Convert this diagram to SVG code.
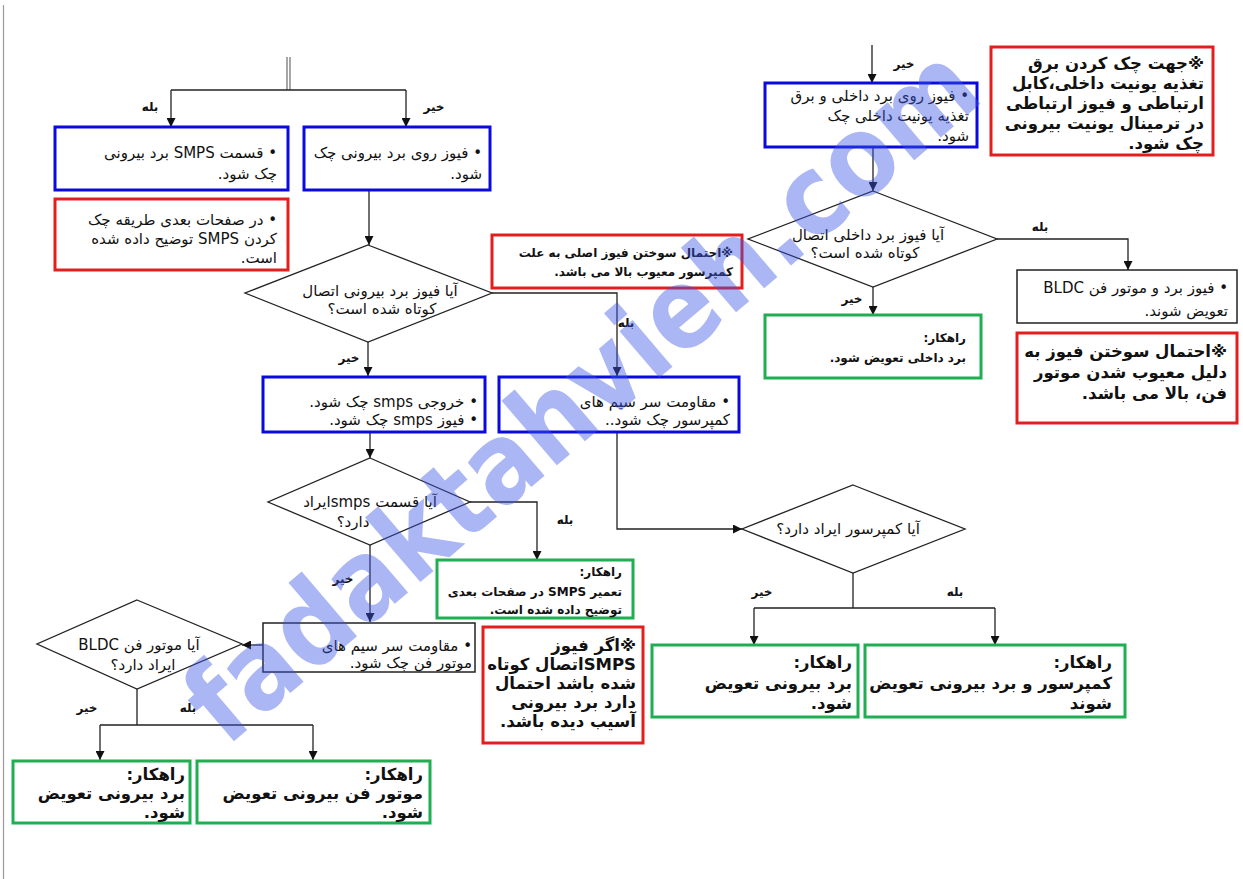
<svg xmlns="http://www.w3.org/2000/svg" width="1243" height="879" viewBox="0 0 1243 879">
<defs>
<style>
.bx{fill:#fff;stroke-width:3}
.blue{stroke:#0a0ae0}
.red{stroke:#e41e1e}
.green{stroke:#1fae52}
.blk{stroke:#222;stroke-width:1.5;fill:#fff}
.dia{fill:#fff;stroke:#222;stroke-width:1.3}
.c{fill:none;stroke:#222;stroke-width:1.3}
text{font-family:"DejaVu Sans",sans-serif;fill:#111}
.r{direction:rtl;text-anchor:start;font-size:15px}
.m{direction:rtl;text-anchor:middle;font-size:15px}
.b{font-weight:bold}
.s{font-size:12px}
.L{font-size:16.5px}
.lb{font-size:12px;font-weight:bold;direction:rtl;text-anchor:middle}
</style>
<marker id="ar" viewBox="0 0 10 10" refX="10" refY="5" markerWidth="9" markerHeight="9" markerUnits="userSpaceOnUse" orient="auto"><path d="M0,0L10,5L0,10z" fill="#111"/></marker>
</defs>
<rect width="1243" height="879" fill="#fff"/>
<line x1="3.5" y1="5" x2="3.5" y2="879" stroke="#999" stroke-width="1.2"/>

<g id="connectors">
<line x1="287" y1="57" x2="287" y2="90" stroke="#777" stroke-width="1.3"/>
<line x1="290" y1="57" x2="290" y2="90" stroke="#777" stroke-width="1.3"/>
<path class="c" d="M171,90H406"/>
<path class="c" d="M171,90V127" marker-end="url(#ar)"/>
<path class="c" d="M406,90V127" marker-end="url(#ar)"/>
<path class="c" d="M369,190V245" marker-end="url(#ar)"/>
<path class="c" d="M492,293H617V376" marker-end="url(#ar)"/>
<path class="c" d="M368,342V376" marker-end="url(#ar)"/>
<path class="c" d="M370,432V458" marker-end="url(#ar)"/>
<path class="c" d="M617,432V529H742" marker-end="url(#ar)"/>
<path class="c" d="M470,502H537V560" marker-end="url(#ar)"/>
<path class="c" d="M370,545V622" marker-end="url(#ar)"/>
<path class="c" d="M263,645H242" marker-end="url(#ar)"/>
<path class="c" d="M137,689V725M100,725H313"/>
<path class="c" d="M100,725V760" marker-end="url(#ar)"/>
<path class="c" d="M313,725V760" marker-end="url(#ar)"/>
<path class="c" d="M853,573V608M754,608H995"/>
<path class="c" d="M754,608V645" marker-end="url(#ar)"/>
<path class="c" d="M995,608V645" marker-end="url(#ar)"/>
<path class="c" d="M872,45V83" marker-end="url(#ar)"/>
<path class="c" d="M873,147V191" marker-end="url(#ar)"/>
<path class="c" d="M997,239H1128V270" marker-end="url(#ar)"/>
<path class="c" d="M873,287V315" marker-end="url(#ar)"/>
<text class="lb" x="150" y="111">بله</text>
<text class="lb" x="434" y="111">خیر</text>
<text class="lb" x="349" y="362">خیر</text>
<text class="lb" x="626" y="327">بله</text>
<text class="lb" x="565" y="524">بله</text>
<text class="lb" x="343" y="583">خیر</text>
<text class="lb" x="87" y="712">خیر</text>
<text class="lb" x="188" y="712">بله</text>
<text class="lb" x="762" y="596">خیر</text>
<text class="lb" x="955" y="596">بله</text>
<text class="lb" x="904" y="68">خیر</text>
<text class="lb" x="1040" y="231">بله</text>
<text class="lb" x="852" y="303">خیر</text>
</g>

<g id="boxA"><rect class="bx blue" x="55" y="127" width="233" height="63"/>
<text class="r" x="277" y="158">• قسمت  SMPS برد بیرونی</text>
<text class="r" x="277" y="179">چک شود.</text></g>

<g id="boxB"><rect class="bx blue" x="304" y="127" width="186" height="63"/>
<text class="r" x="482" y="158">• فیوز روی برد بیرونی چک</text>
<text class="r" x="482" y="179">شود.</text></g>

<g id="boxC"><rect class="bx red" x="55" y="199" width="233" height="71"/>
<text class="r" x="277" y="225">• در صفحات بعدی طریقه چک</text>
<text class="r" x="277" y="244">کردن  SMPS توضیح داده شده</text>
<text class="r" x="277" y="263">است.</text></g>

<g id="dia1"><polygon class="dia" points="368,245 492,293 368,342 245,293"/>
<text class="m" x="380" y="296">آیا فیوز برد بیرونی اتصال</text>
<text class="m" x="382" y="314">کوتاه شده است؟</text></g>

<g id="boxF"><rect class="bx red" x="492" y="235" width="250" height="53"/>
<text class="r b s" x="733" y="257">※احتمال سوختن فیوز اصلی به علت</text>
<text class="r b s" x="733" y="276">کمپرسور معیوب بالا می باشد.</text></g>

<g id="boxD"><rect class="bx blue" x="263" y="377" width="222" height="55"/>
<text class="r" x="478" y="407">• خروجی smps چک شود.</text>
<text class="r" x="478" y="425">• فیوز smps چک شود.</text></g>

<g id="boxE"><rect class="bx blue" x="499" y="377" width="240" height="55"/>
<text class="r" x="730" y="407">• مقاومت سر سیم های</text>
<text class="r" x="730" y="425">کمپرسور چک شود..</text></g>

<g id="dia2"><polygon class="dia" points="370,458 470,502 370,545 268,502"/>
<text class="m" x="370" y="507">آیا قسمت smpsایراد</text>
<text class="m" x="353" y="527">دارد؟</text></g>

<g id="boxI"><rect class="bx green" x="437" y="560" width="196" height="58"/>
<text class="r b s" x="622" y="576">راهکار:</text>
<text class="r b s" x="622" y="596">تعمیر SMPS در صفحات بعدی</text>
<text class="r b s" x="622" y="614">توضیح داده شده است.</text></g>

<g id="boxJ"><rect class="blk" x="263" y="623" width="212" height="49"/>
<text class="r" x="472" y="651">• مقاومت سر سیم های</text>
<text class="r" x="472" y="668">موتور فن چک شود.</text></g>

<g id="dia4"><polygon class="dia" points="137,600 242,644 137,689 37,644"/>
<text class="m" x="139" y="650">آیا موتور فن BLDC</text>
<text class="m" x="143" y="670">ایراد دارد؟</text></g>

<g id="boxK"><rect class="bx green" x="13" y="761" width="177" height="62"/>
<text class="r b L" x="185" y="780">راهکار:</text>
<text class="r b L" x="185" y="799">برد بیرونی تعویض</text>
<text class="r b L" x="185" y="818">شود.</text></g>

<g id="boxL"><rect class="bx green" x="197" y="761" width="233" height="62"/>
<text class="r b L" x="423" y="780">راهکار:</text>
<text class="r b L" x="423" y="799">موتور فن بیرونی تعویض</text>
<text class="r b L" x="423" y="818">شود.</text></g>

<g id="boxM"><rect class="bx red" x="483" y="627" width="160" height="116"/>
<text class="r b L" x="636" y="651">※اگر فیوز</text>
<text class="r b L" x="636" y="670">SMPSاتصال کوتاه</text>
<text class="r b L" x="636" y="689">شده باشد احتمال</text>
<text class="r b L" x="636" y="708">دارد برد بیرونی</text>
<text class="r b L" x="636" y="727">آسیب دیده باشد.</text></g>

<g id="dia3"><polygon class="dia" points="853,485 965,529 853,573 742,529"/>
<text class="m" x="848" y="534">آیا کمپرسور ایراد دارد؟</text></g>

<g id="boxG"><rect class="bx green" x="652" y="645" width="206" height="72"/>
<text class="r b L" x="852" y="668">راهکار:</text>
<text class="r b L" x="852" y="689">برد بیرونی تعویض</text>
<text class="r b L" x="852" y="709">شود.</text></g>

<g id="boxH"><rect class="bx green" x="865" y="645" width="260" height="72"/>
<text class="r b L" x="1112" y="668">راهکار:</text>
<text class="r b L" x="1112" y="689">کمپرسور و برد بیرونی تعویض</text>
<text class="r b L" x="1112" y="709">شوند</text></g>

<g id="boxN"><rect class="bx blue" x="765" y="83" width="212" height="64"/>
<text class="r" x="969" y="101">• فیوز روی برد داخلی و برق</text>
<text class="r" x="969" y="121">تغذیه یونیت داخلی چک</text>
<text class="r" x="969" y="141">شود.</text></g>

<g id="boxR"><rect class="bx red" x="991" y="47" width="222" height="108"/>
<text class="r b L" x="1204" y="69">※جهت چک کردن برق</text>
<text class="r b L" x="1204" y="89">تغذیه یونیت داخلی،کابل</text>
<text class="r b L" x="1204" y="109">ارتباطی و فیوز ارتباطی</text>
<text class="r b L" x="1204" y="129">در ترمینال یونیت بیرونی</text>
<text class="r b L" x="1204" y="149">چک شود.</text></g>

<g id="dia5"><polygon class="dia" points="873,191 997,239 873,287 748,239"/>
<text class="m" x="868" y="240">آیا فیوز برد داخلی اتصال</text>
<text class="m" x="865" y="258">کوتاه شده است؟</text></g>

<g id="boxO"><rect class="bx green" x="765" y="315" width="216" height="63"/>
<text class="r b s" x="966" y="342">راهکار:</text>
<text class="r b s" x="966" y="362">برد داخلی تعویض شود.</text></g>

<g id="boxP"><rect class="blk" x="1017" y="270" width="220" height="53"/>
<text class="r" x="1228" y="293">• فیوز برد و موتور فن BLDC</text>
<text class="r" x="1228" y="316">تعویض شوند.</text></g>

<g id="boxQ"><rect class="bx red" x="1017" y="333" width="220" height="90"/>
<text class="r b L" x="1227" y="357">※احتمال سوختن فیوز به</text>
<text class="r b L" x="1227" y="378">دلیل معیوب شدن موتور</text>
<text class="r b L" x="1227" y="399">فن، بالا می باشد.</text></g>

<g id="watermark" opacity="0.42">
<text x="0" y="0" transform="translate(226,748) rotate(-40.5)" font-size="112" font-weight="bold" style="font-family:'DejaVu Sans',sans-serif;fill:#3a55e6" textLength="1000" lengthAdjust="spacingAndGlyphs">fadaktahvieh.com</text>
</g>
</svg>
